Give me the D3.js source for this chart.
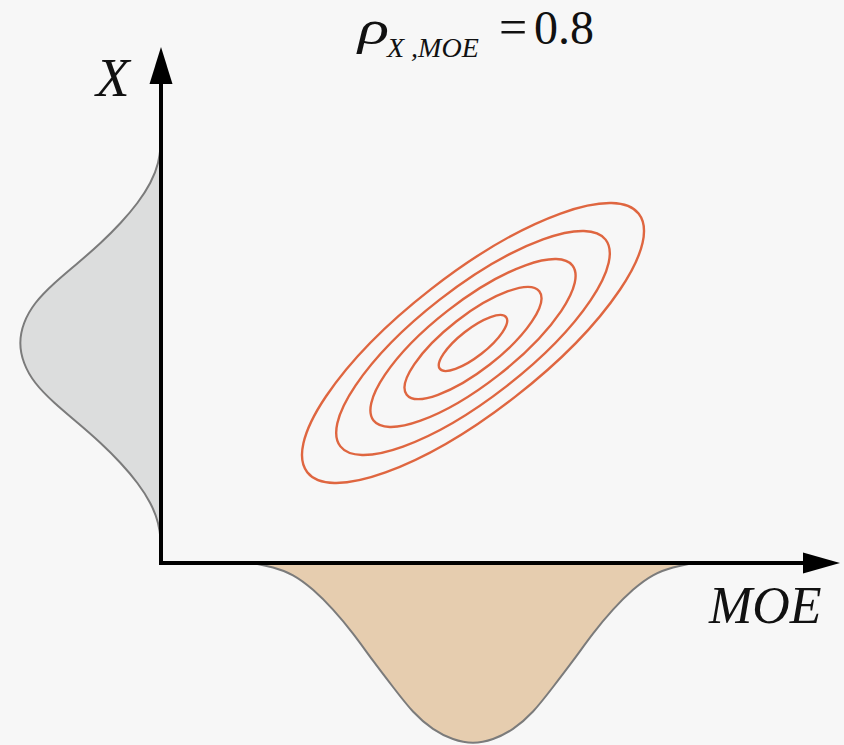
<!DOCTYPE html>
<html>
<head>
<meta charset="utf-8">
<script src="https://cdn.jsdelivr.net/npm/d3@7"></script>
<style>
  html, body { margin: 0; padding: 0; background: #f7f7f7; }
  svg { display: block; }
</style>
</head>
<body>
<script>
// Joint distribution of MOE and X: marginal densities along each axis and
// elliptical contours of the joint density (correlation rho).

const rho = 0.8;

// Marginal density of X (along the vertical axis)
const xValues   = [-20, -18, -16, -14, -12, -10, -8, -6, -4, -2, 0, 2, 4, 6, 8, 10, 12, 14, 16, 18, 20];
const xDensity  = [0, 2, 10, 23, 40, 60, 83, 107, 127, 138, 142, 138, 127, 107, 83, 60, 40, 23, 10, 2, 0];

// Marginal density of MOE (hanging below the horizontal axis)
const moeValues  = [-22, -20, -18, -16, -14, -12, -10, -8, -6, -4, -2, 0, 2, 4, 6, 8, 10, 12, 14, 16, 18, 20, 22];
const moeDensity = [0, 4, 11, 26, 46, 70, 98, 124, 150, 167, 177, 181, 177, 167, 150, 124, 98, 70, 46, 26, 11, 4, 0];

// Joint distribution: means, standard deviations, contour radii (Mahalanobis)
const meanMOE = 0, meanX = 0;
const sdMOE = 3.42, sdX = 2.8;
const contourLevels = [1, 2, 3, 4, 5];

const W = 844, H = 745;
const SERIF = '"Liberation Serif", "Times New Roman", Times, serif';

const svg = d3.select("body").append("svg").attr("width", W).attr("height", H);
svg.append("rect").attr("width", W).attr("height", H).attr("fill", "#f7f7f7");

// Scales: the axis arrows run the full extent of each domain
const xScale = d3.scaleLinear().domain([-31.2, 36.7]).range([161, 840]);   // MOE
const yScale = d3.scaleLinear().domain([-22, 29.6]).range([563, 47]);      // X
const dens   = d3.scaleLinear().domain([0, 200]).range([0, 200]);          // density height

const x0 = xScale(xScale.domain()[0]);
const y0 = yScale(yScale.domain()[0]);

// Left marginal (X)
const leftData = xValues.map((v, i) => ({ v, d: xDensity[i] }));
svg.append("path")
  .datum(leftData)
  .attr("d", d3.area()
    .curve(d3.curveBasis)
    .y(d => yScale(d.v))
    .x0(x0)
    .x1(d => x0 - dens(d.d)))
  .attr("fill", "#dcdddd");
svg.append("path")
  .datum(leftData)
  .attr("d", d3.line()
    .curve(d3.curveBasis)
    .y(d => yScale(d.v))
    .x(d => x0 - dens(d.d)))
  .attr("fill", "none")
  .attr("stroke", "#7b7b7b")
  .attr("stroke-width", 2);

// Bottom marginal (MOE)
const bottomData = moeValues.map((v, i) => ({ v, d: moeDensity[i] }));
svg.append("path")
  .datum(bottomData)
  .attr("d", d3.area()
    .curve(d3.curveBasis)
    .x(d => xScale(d.v))
    .y0(y0)
    .y1(d => y0 + dens(d.d)))
  .attr("fill", "#e6cdaf");
svg.append("path")
  .datum(bottomData)
  .attr("d", d3.line()
    .curve(d3.curveBasis)
    .x(d => xScale(d.v))
    .y(d => y0 + dens(d.d)))
  .attr("fill", "none")
  .attr("stroke", "#7b7b7b")
  .attr("stroke-width", 2);

// Contour ellipses of the joint density, in pixel space
const kx = Math.abs(xScale(1) - xScale(0));
const ky = Math.abs(yScale(1) - yScale(0));
const sx = sdMOE * kx, sy = sdX * ky;
const a = sx * sx, b = sy * sy, c = rho * sx * sy;
const half = (a + b) / 2, diff = Math.sqrt(((a - b) / 2) ** 2 + c * c);
const l1 = half + diff, l2 = half - diff;
const angle = 0.5 * Math.atan2(2 * c, a - b) * 180 / Math.PI; // counter-clockwise (y up)

const cx = xScale(meanMOE), cy = yScale(meanX);
svg.append("g")
  .selectAll("ellipse")
  .data(contourLevels)
  .join("ellipse")
  .attr("cx", cx)
  .attr("cy", cy)
  .attr("rx", r => r * Math.sqrt(l1))
  .attr("ry", r => r * Math.sqrt(l2))
  .attr("transform", `rotate(${-angle},${cx},${cy})`)
  .attr("fill", "none")
  .attr("stroke", "#df6640")
  .attr("stroke-width", 2.4);

// Axes with arrowheads
const xEnd = xScale(xScale.domain()[1]);
const yEnd = yScale(yScale.domain()[1]);
svg.append("line")
  .attr("x1", x0).attr("y1", y0 + 2)
  .attr("x2", x0).attr("y2", yEnd + 34)
  .attr("stroke", "#000").attr("stroke-width", 4);
svg.append("path")
  .attr("d", `M${x0},${yEnd} L${x0 - 11.5},${yEnd + 37} L${x0 + 11.5},${yEnd + 37} Z`)
  .attr("fill", "#000");
svg.append("line")
  .attr("x1", x0 - 2).attr("y1", y0)
  .attr("x2", xEnd - 34).attr("y2", y0)
  .attr("stroke", "#000").attr("stroke-width", 4);
svg.append("path")
  .attr("d", `M${xEnd},${y0} L${xEnd - 37},${y0 - 10.5} L${xEnd - 37},${y0 + 10.5} Z`)
  .attr("fill", "#000");

// Axis labels
svg.append("text")
  .attr("x", 96).attr("y", 96)
  .style("font-family", SERIF).style("font-style", "italic")
  .style("font-size", "55px").attr("fill", "#111")
  .text("X");
svg.append("text")
  .attr("x", 709).attr("y", 623)
  .style("font-family", SERIF).style("font-style", "italic")
  .style("font-size", "52px").attr("fill", "#111")
  .text("MOE");

// Title: correlation coefficient
const title = svg.append("g").attr("fill", "#111").style("font-family", SERIF);
title.append("text")
  .attr("transform", "translate(358,44) scale(1.35,1)")
  .style("font-style", "italic").style("font-size", "48px")
  .text("ρ");
title.append("text")
  .attr("x", 387).attr("y", 57)
  .style("font-style", "italic").style("font-size", "28px")
  .text("X ,MOE");
title.append("text")
  .attr("x", 499).attr("y", 44)
  .style("font-size", "50px")
  .text("=");
title.append("text")
  .attr("x", 534).attr("y", 44)
  .style("font-size", "48px")
  .text(d3.format(".1f")(rho));
</script>
</body>
</html>
